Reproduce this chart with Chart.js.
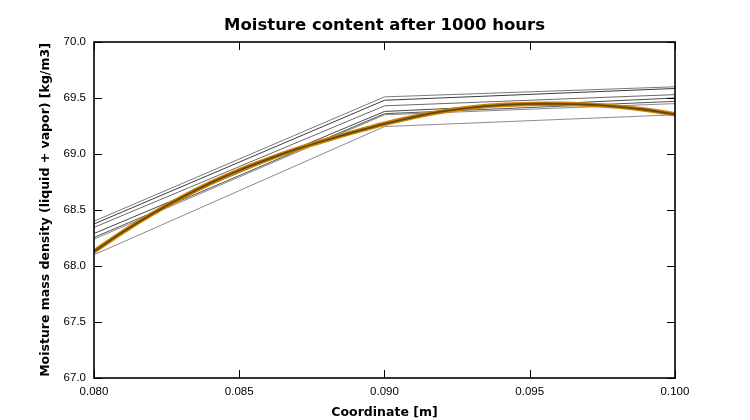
<!DOCTYPE html>
<html>
<head>
<meta charset="utf-8">
<title>Moisture content after 1000 hours</title>
<script src="https://cdn.jsdelivr.net/npm/chart.js@4.4.1/dist/chart.umd.min.js"></script>
<style>
  html, body { margin: 0; padding: 0; background: #fff; }
  #wrap { width: 750px; height: 420px; }
</style>
</head>
<body>
<div id="wrap"><canvas id="moisture"></canvas></div>
<script>
// coordinates of the node profiles [m]
const nodeCoords = [0.08, 0.09, 0.1];

// thin profiles (moisture density at each node)
const profile1 = [68.40, 69.51, 69.60];
const profile2 = [68.375, 69.48, 69.585];
const profile3 = [68.345, 69.43, 69.53];
const profile4 = [68.29, 69.38, 69.50];
const profile5 = [68.255, 69.36, 69.47];
const profile6 = [68.24, 69.35, 69.45];
const profile7 = [68.10, 69.245, 69.35];
const profileColors = ["#7a7a7a", "#3c3c3c", "#6a6a6a", "#4a4a4a", "#555555", "#8a8a8a", "#8c8c8c"];

// thick smooth curve
const curveCoords = [0.080, 0.081, 0.082, 0.083, 0.084, 0.085, 0.086, 0.087, 0.088, 0.089, 0.090,
                     0.091, 0.092, 0.093, 0.094, 0.095, 0.096, 0.097, 0.098, 0.099, 0.100];
const curveValues = [68.13, 68.305, 68.465, 68.61, 68.74, 68.855, 68.955, 69.045, 69.125, 69.20, 69.27,
                     69.33, 69.38, 69.415, 69.437, 69.447, 69.448, 69.44, 69.423, 69.395, 69.355];

// axis ticks
const xTicks = [0.080, 0.085, 0.090, 0.095, 0.100];
const yTicks = [67.0, 67.5, 68.0, 68.5, 69.0, 69.5, 70.0];

const toPoints = (xs, ys) => xs.map((x, i) => ({ x: x, y: ys[i] }));

const thinProfiles = [profile1, profile2, profile3, profile4, profile5, profile6, profile7];
const datasets = thinProfiles.map((p, i) => ({
  data: toPoints(nodeCoords, p),
  borderColor: profileColors[i],
  borderWidth: 1,
  pointRadius: 0,
  tension: 0,
  order: 2,
}));

// orange line under, dark line on top (lower order = drawn on top)
datasets.push({
  data: toPoints(curveCoords, curveValues),
  borderColor: "#d27f00",
  borderWidth: 4.5,
  pointRadius: 0,
  tension: 0.4,
  order: 1,
});
datasets.push({
  data: toPoints(curveCoords, curveValues),
  borderColor: "#5a4a10",
  borderWidth: 1.8,
  pointRadius: 0,
  tension: 0.4,
  order: 0,
});

// box around plot + inward ticks (matplotlib look)
const frameTicks = {
  id: "frameTicks",
  afterDraw(chart) {
    const { ctx, chartArea: a, scales } = chart;
    ctx.save();
    ctx.strokeStyle = "#000";
    ctx.lineWidth = 1;
    ctx.beginPath();
    xTicks.forEach((v) => {
      const px = Math.round(scales.x.getPixelForValue(v)) + 0.5;
      ctx.moveTo(px, a.bottom); ctx.lineTo(px, a.bottom - 8);
      ctx.moveTo(px, a.top); ctx.lineTo(px, a.top + 8);
    });
    yTicks.forEach((v) => {
      const py = Math.round(scales.y.getPixelForValue(v)) + 0.5;
      ctx.moveTo(a.left, py); ctx.lineTo(a.left + 8, py);
      ctx.moveTo(a.right, py); ctx.lineTo(a.right - 8, py);
    });
    ctx.stroke();
    ctx.lineWidth = 1.6;
    ctx.strokeRect(a.left, a.top, a.right - a.left, a.bottom - a.top);
    ctx.restore();
  },
};

const ctx = document.getElementById("moisture").getContext("2d");
new Chart(ctx, {
  type: "line",
  data: { datasets: datasets },
  options: {
    responsive: true,
    maintainAspectRatio: false,
    animation: false,
    layout: { padding: { left: 0, right: 75, top: 0, bottom: 0 } },
    plugins: {
      legend: { display: false },
      tooltip: { enabled: false },
      title: {
        display: true,
        fullSize: false, // centre over the plot area
        text: "Moisture content after 1000 hours",
        color: "#000",
        font: { family: "DejaVu Sans", size: 16.5, weight: "bold", lineHeight: 1.2 },
        padding: { top: 16, bottom: 6.2 },
      },
    },
    scales: {
      x: {
        type: "linear",
        min: 0.08,
        max: 0.1,
        afterBuildTicks: (scale) => { scale.ticks = xTicks.map((v) => ({ value: v })); },
        afterFit: (scale) => { scale.height = 42; },
        grid: { display: false, drawTicks: false },
        border: { display: false },
        ticks: {
          color: "#000",
          padding: 7,
          maxRotation: 0,
          font: { family: "Liberation Sans", size: 11.5 },
          callback: (v) => Number(v).toFixed(3),
        },
        title: {
          display: true,
          text: "Coordinate [m]",
          color: "#000",
          font: { family: "DejaVu Sans", size: 12.5, weight: "bold" },
          padding: { top: 0, bottom: 0 },
        },
      },
      y: {
        type: "linear",
        min: 67,
        max: 70,
        afterBuildTicks: (scale) => { scale.ticks = yTicks.map((v) => ({ value: v })); },
        afterFit: (scale) => { scale.width = 94; },
        grid: { display: false, drawTicks: false },
        border: { display: false },
        ticks: {
          color: "#000",
          padding: 8,
          font: { family: "Liberation Sans", size: 11.5 },
          callback: (v) => Number(v).toFixed(1),
        },
        title: {
          display: true,
          text: "Moisture mass density (liquid + vapor) [kg/m3]",
          color: "#000",
          font: { family: "DejaVu Sans", size: 12.5, weight: "bold" },
          padding: { top: 38, bottom: 0 },
        },
      },
    },
  },
  plugins: [frameTicks],
});
</script>
</body>
</html>
